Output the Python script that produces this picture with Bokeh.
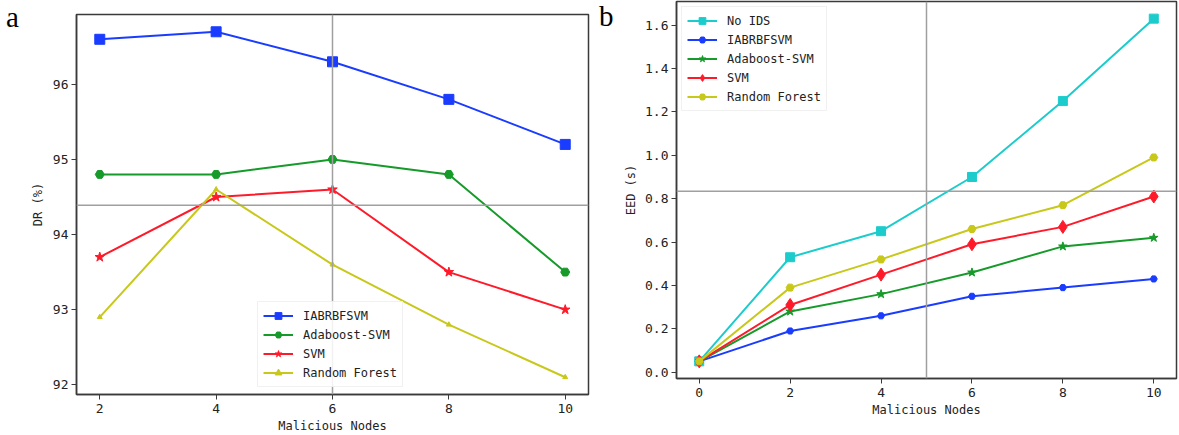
from bokeh.plotting import figure
from bokeh.layouts import row, column
from bokeh.models import Range1d, Span, Legend, LegendItem, Div, FixedTicker, PrintfTickFormatter
from bokeh.embed import file_html
from bokeh.resources import INLINE

# ---------------- data ----------------
nodes_a = [2, 4, 6, 8, 10]
dr_iabrbfsvm = [96.6, 96.7, 96.3, 95.8, 95.2]
dr_adaboost = [94.8, 94.8, 95.0, 94.8, 93.5]
dr_svm = [93.7, 94.5, 94.6, 93.5, 93.0]
dr_rf = [92.9, 94.6, 93.6, 92.8, 92.1]
dr_ticks = [92, 93, 94, 95, 96]
a_xticks = [2, 4, 6, 8, 10]

nodes_b = [0, 2, 4, 6, 8, 10]
eed_noids = [0.05, 0.53, 0.65, 0.90, 1.25, 1.63]
eed_iabrbfsvm = [0.05, 0.19, 0.26, 0.35, 0.39, 0.43]
eed_adaboost = [0.05, 0.28, 0.36, 0.46, 0.58, 0.62]
eed_svm = [0.05, 0.31, 0.45, 0.59, 0.67, 0.81]
eed_rf = [0.05, 0.39, 0.52, 0.66, 0.77, 0.99]
eed_ticks = [0.0, 0.2, 0.4, 0.6, 0.8, 1.0, 1.2, 1.4, 1.6]
b_xticks = [0, 2, 4, 6, 8, 10]

BLUE = "#1a3cff"
GREEN = "#169a2a"
RED = "#ff1a2a"
YELLOW = "#c8c81a"
CYAN = "#1ccccc"
MONO = "DejaVu Sans Mono"
FRAME = "#3a3a3a"
CROSS = "#a0a0a0"


def style(p, xlabel, ylabel, xticks, yticks, ylabel_standoff):
    p.outline_line_color = FRAME
    p.outline_line_width = 1.5
    p.xgrid.visible = False
    p.ygrid.visible = False
    for ax in (p.xaxis[0], p.yaxis[0]):
        ax.axis_line_color = FRAME
        ax.axis_line_width = 1.5
        ax.major_tick_line_color = FRAME
        ax.major_tick_in = 0
        ax.major_tick_out = 5
        ax.minor_tick_line_color = None
        ax.major_label_text_font = MONO
        ax.major_label_text_font_size = "13px"
        ax.major_label_text_color = "#222222"
        ax.axis_label_text_font = MONO
        ax.axis_label_text_font_size = "12px"
        ax.axis_label_text_font_style = "normal"
        ax.axis_label_text_color = "#222222"
    p.xaxis[0].axis_label = xlabel
    p.yaxis[0].axis_label = ylabel
    p.xaxis[0].ticker = FixedTicker(ticks=xticks)
    p.yaxis[0].ticker = FixedTicker(ticks=yticks)
    p.xaxis[0].major_label_standoff = 4
    p.xaxis[0].axis_label_standoff = 3
    p.yaxis[0].major_label_standoff = 3
    p.yaxis[0].axis_label_standoff = ylabel_standoff


def series(p, x, y, color, marker, size):
    l = p.line(x, y, line_color=color, line_width=2)
    m = p.scatter(x, y, marker=marker, size=size, fill_color=color, line_color=color)
    return [l, m]


def make_legend(p, items, location):
    lg = Legend(items=items, location=location)
    lg.label_text_font = MONO
    lg.label_text_font_size = "12px"
    lg.label_text_color = "#222222"
    lg.glyph_width = 30
    lg.glyph_height = 17
    lg.spacing = 2
    lg.padding = 5
    lg.margin = 5
    lg.label_standoff = 10
    lg.background_fill_alpha = 0.85
    lg.border_line_color = "#e4e4e4"
    lg.border_line_width = 1
    p.add_layout(lg)


def panel_letter(letter, w, left_pad, top_pad):
    html = ('<div style="font-family:\'Liberation Serif\',serif;font-size:29px;'
            'line-height:29px;color:#000;padding-left:%dpx;padding-top:%dpx;">%s</div>'
            % (left_pad, top_pad, letter))
    return Div(text=html, width=w, height=435, margin=0)


# ---------------- panel a ----------------
pa = figure(width=576, height=435, output_backend="svg", toolbar_location=None,
            x_range=Range1d(1.6, 10.4), y_range=Range1d(91.87, 96.93),
            min_border_left=56, min_border_right=8, min_border_top=14, min_border_bottom=41)
style(pa, "Malicious Nodes", "DR (%)", a_xticks, dr_ticks, 5)
pa.add_layout(Span(location=6, dimension="height", line_color=CROSS, line_width=1.5))
pa.add_layout(Span(location=94.39, dimension="width", line_color=CROSS, line_width=1.5))
ra1 = series(pa, nodes_a, dr_iabrbfsvm, BLUE, "square", 10)
ra2 = series(pa, nodes_a, dr_adaboost, GREEN, "hex", 9)
ra3 = series(pa, nodes_a, dr_svm, RED, "star", 10)
ra4 = series(pa, nodes_a, dr_rf, YELLOW, "triangle", 5)
make_legend(pa, [LegendItem(label="IABRBFSVM", renderers=ra1),
                 LegendItem(label="Adaboost-SVM", renderers=ra2),
                 LegendItem(label="SVM", renderers=ra3),
                 LegendItem(label="Random Forest", renderers=ra4)], (181, 7))

# ---------------- panel b ----------------
pb = figure(width=561, height=435, output_backend="svg", toolbar_location=None,
            x_range=Range1d(-0.5, 10.5), y_range=Range1d(-0.029, 1.709),
            min_border_left=58, min_border_right=3, min_border_top=1, min_border_bottom=57)
style(pb, "Malicious Nodes", "EED (s)", b_xticks, eed_ticks, 4)
pb.yaxis[0].formatter = PrintfTickFormatter(format="%.1f")
pb.add_layout(Span(location=5, dimension="height", line_color=CROSS, line_width=1.5))
pb.add_layout(Span(location=0.834, dimension="width", line_color=CROSS, line_width=1.5))
rb1 = series(pb, nodes_b, eed_noids, CYAN, "square", 9)
rb2 = series(pb, nodes_b, eed_iabrbfsvm, BLUE, "hex", 7)
rb3 = series(pb, nodes_b, eed_adaboost, GREEN, "star", 9)
rb4 = series(pb, nodes_b, eed_svm, RED, "diamond", 13)
rb5 = series(pb, nodes_b, eed_rf, YELLOW, "hex", 8)
make_legend(pb, [LegendItem(label="No IDS", renderers=rb1),
                 LegendItem(label="IABRBFSVM", renderers=rb2),
                 LegendItem(label="Adaboost-SVM", renderers=rb3),
                 LegendItem(label="SVM", renderers=rb4),
                 LegendItem(label="Random Forest", renderers=rb5)], "top_left")

layout = row(panel_letter("a", 20, 6, 3), column(pa), panel_letter("b", 22, 3, 2), column(pb))
open("out.html", "w").write(file_html(layout, INLINE))
